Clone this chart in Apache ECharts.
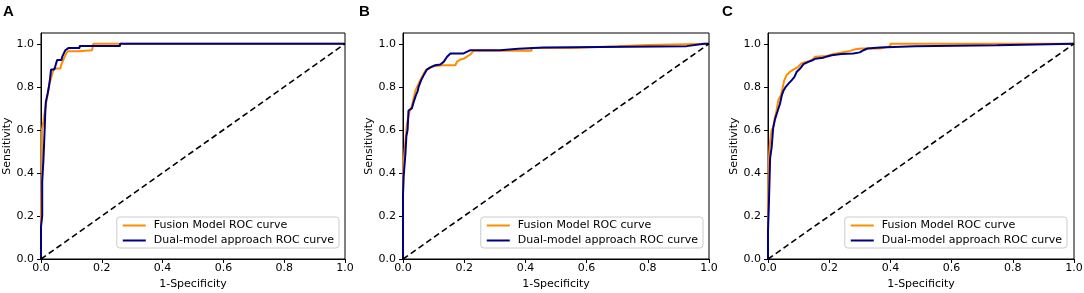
<!DOCTYPE html>
<html><head><meta charset="utf-8">
<script src="https://cdn.jsdelivr.net/npm/echarts@6/dist/echarts.min.js"></script>
<style>html,body{margin:0;padding:0;background:#fff}#c{width:1084px;height:293px}</style>
</head><body><div id="c"></div>
<script>
// ---------- data ----------
const panelLabels = ['A', 'B', 'C'];
const seriesNames = ['Fusion Model ROC curve', 'Dual-model approach ROC curve'];
const tickValues = [0, 0.2, 0.4, 0.6, 0.8, 1.0];
const chanceFpr = [0, 1];
const chanceTpr = [0, 1];

// Panel A
const aFusionFpr = [0, 0, 0.003, 0.003, 0.008, 0.012, 0.016, 0.02, 0.024, 0.027, 0.033, 0.037, 0.042, 0.064, 0.066, 0.069, 0.078, 0.083, 0.088, 0.124, 0.124, 0.168, 0.172, 1.0];
const aFusionTpr = [0, 0.2, 0.4, 0.6, 0.64, 0.68, 0.72, 0.75, 0.78, 0.81, 0.84, 0.86, 0.885, 0.885, 0.9, 0.91, 0.94, 0.955, 0.965, 0.965, 0.97, 0.97, 1.0, 1.0];
const aDualFpr = [0, 0, 0.004, 0.004, 0.008, 0.012, 0.014, 0.016, 0.022, 0.026, 0.03, 0.033, 0.044, 0.048, 0.053, 0.067, 0.07, 0.075, 0.08, 0.09, 0.127, 0.127, 0.26, 0.26, 1.0];
const aDualTpr = [0, 0.15, 0.2, 0.36, 0.46, 0.6, 0.68, 0.73, 0.77, 0.8, 0.84, 0.88, 0.88, 0.9, 0.924, 0.924, 0.94, 0.955, 0.97, 0.98, 0.98, 0.99, 0.99, 1.0, 1.0];

// Panel B
const bFusionFpr = [0, 0, 0.002, 0.008, 0.013, 0.022, 0.029, 0.04, 0.046, 0.056, 0.067, 0.076, 0.085, 0.1, 0.13, 0.171, 0.176, 0.187, 0.198, 0.209, 0.22, 0.23, 0.42, 0.42, 0.55, 0.55, 0.70, 0.70, 0.80, 0.80, 1.0];
const bFusionTpr = [0, 0.3, 0.45, 0.55, 0.63, 0.69, 0.71, 0.78, 0.8, 0.83, 0.86, 0.88, 0.885, 0.896, 0.9, 0.9, 0.916, 0.927, 0.93, 0.94, 0.95, 0.967, 0.967, 0.98, 0.98, 0.988, 0.988, 0.994, 0.994, 1.0, 1.0];
const bDualFpr = [0, 0, 0.002, 0.008, 0.011, 0.015, 0.018, 0.029, 0.035, 0.042, 0.048, 0.051, 0.059, 0.07, 0.078, 0.089, 0.105, 0.122, 0.133, 0.144, 0.155, 0.198, 0.203, 0.22, 0.317, 0.317, 0.377, 0.377, 0.459, 0.459, 0.927, 0.984, 1.0];
const bDualTpr = [0, 0.3, 0.38, 0.49, 0.57, 0.6, 0.69, 0.70, 0.73, 0.76, 0.78, 0.8, 0.83, 0.86, 0.88, 0.89, 0.9, 0.904, 0.916, 0.94, 0.955, 0.955, 0.963, 0.97, 0.97, 0.977, 0.977, 0.983, 0.983, 0.989, 0.989, 1.0, 1.0];

// Panel C
const cFusionFpr = [0, 0, 0.001, 0.003, 0.007, 0.012, 0.017, 0.023, 0.028, 0.034, 0.042, 0.047, 0.053, 0.061, 0.072, 0.083, 0.099, 0.11, 0.126, 0.143, 0.154, 0.192, 0.215, 0.236, 0.268, 0.285, 0.306, 0.366, 0.4, 0.4, 1.0];
const cFusionTpr = [0, 0.2, 0.35, 0.47, 0.55, 0.6, 0.61, 0.66, 0.69, 0.74, 0.76, 0.79, 0.83, 0.855, 0.87, 0.88, 0.893, 0.91, 0.916, 0.924, 0.94, 0.943, 0.953, 0.958, 0.967, 0.974, 0.978, 0.978, 0.989, 1.0, 1.0];
const cDualFpr = [0, 0, 0.003, 0.007, 0.012, 0.017, 0.023, 0.032, 0.039, 0.045, 0.05, 0.058, 0.067, 0.077, 0.086, 0.094, 0.105, 0.116, 0.132, 0.143, 0.154, 0.18, 0.19, 0.208, 0.24, 0.279, 0.3, 0.312, 0.325, 0.366, 0.37, 0.48, 0.48, 0.748, 0.748, 1.0];
const cDualTpr = [0, 0.13, 0.26, 0.47, 0.52, 0.61, 0.65, 0.69, 0.72, 0.76, 0.78, 0.8, 0.815, 0.83, 0.845, 0.87, 0.885, 0.905, 0.916, 0.922, 0.93, 0.935, 0.94, 0.947, 0.952, 0.955, 0.96, 0.97, 0.978, 0.983, 0.988, 0.988, 0.993, 0.993, 1.0, 1.0];

// ---------- build ----------
const panels = [
  {fusion: [aFusionFpr, aFusionTpr], dual: [aDualFpr, aDualTpr]},
  {fusion: [bFusionFpr, bFusionTpr], dual: [bDualFpr, bDualTpr]},
  {fusion: [cFusionFpr, cFusionTpr], dual: [cDualFpr, cDualTpr]}
];
const zip = (xs, ys) => xs.map((x, i) => [x, ys[i]]);

const FONT = '"DejaVu Sans", sans-serif';
const gridLayout = [
  {left: 41, top: 33, width: 304, height: 226},
  {left: 403, top: 33, width: 306, height: 226},
  {left: 768, top: 33, width: 306, height: 226}
];
const legendRight = [745, 381, 17];
const labelLeft = [3, 359, 722];

const grid = [], xAxis = [], yAxis = [], series = [], legend = [], graphic = [];
panels.forEach((p, i) => {
  grid.push(Object.assign({show: true, borderColor: '#000', borderWidth: 1, backgroundColor: 'transparent', containLabel: false, outerBoundsMode: 'none'}, gridLayout[i]));
  xAxis.push({
    type: 'value', gridIndex: i, min: 0, max: 1, interval: 0.2,
    axisLine: {show: true, onZero: false, lineStyle: {color: '#000', width: 1}},
    axisTick: {show: true, length: 4, lineStyle: {color: '#000', width: 1}},
    axisLabel: {fontFamily: FONT, fontSize: 11, color: '#000', margin: 4, formatter: v => v.toFixed(1)},
    splitLine: {show: false},
    name: '1-Specificity', nameLocation: 'middle', nameGap: 18,
    nameTextStyle: {fontFamily: FONT, fontSize: 11, color: '#000'}
  });
  yAxis.push({
    type: 'value', gridIndex: i, min: 0, max: 1.05,
    axisLine: {show: true, onZero: false, lineStyle: {color: '#000', width: 1}},
    axisTick: {show: true, length: 4, lineStyle: {color: '#000', width: 1}, customValues: tickValues},
    axisLabel: {fontFamily: FONT, fontSize: 11, color: '#000', margin: 7, customValues: tickValues, formatter: v => Number(v).toFixed(1)},
    splitLine: {show: false},
    name: 'Sensitivity', nameLocation: 'middle', nameGap: 26,
    nameTextStyle: {fontFamily: FONT, fontSize: 11, color: '#000'}
  });
  series.push({
    type: 'line', name: seriesNames[0], xAxisIndex: i, yAxisIndex: i,
    data: zip(p.fusion[0], p.fusion[1]), symbol: 'none', clip: true,
    lineStyle: {color: '#FF8C00', width: 2}, itemStyle: {color: '#FF8C00'}, animation: false
  });
  series.push({
    type: 'line', name: seriesNames[1], xAxisIndex: i, yAxisIndex: i,
    data: zip(p.dual[0], p.dual[1]), symbol: 'none', clip: true,
    lineStyle: {color: '#000080', width: 2}, itemStyle: {color: '#000080'}, animation: false
  });
  series.push({
    type: 'line', name: 'chance', xAxisIndex: i, yAxisIndex: i,
    data: zip(chanceFpr, chanceTpr), symbol: 'none', clip: true,
    lineStyle: {color: '#000', width: 1.6, type: [6, 3.5]}, animation: false, silent: true
  });
  legend.push({
    right: legendRight[i], top: 217, orient: 'vertical',
    data: seriesNames, icon: 'rect', itemWidth: 23, itemHeight: 2, itemGap: 4,
    padding: [3, 5, 2, 6], backgroundColor: 'rgba(255,255,255,0.8)',
    borderColor: '#cccccc', borderWidth: 1, borderRadius: 3, selectedMode: false,
    textStyle: {fontFamily: FONT, fontSize: 11, color: '#000', padding: [0, 0, 0, 3]}
  });
  graphic.push({
    type: 'text', left: labelLeft[i], top: 4,
    style: {text: panelLabels[i], font: 'bold 15px "Liberation Sans", Arial, sans-serif', fill: '#000'}
  });
});

const chart = echarts.init(document.getElementById('c'), null, {renderer: 'canvas'});
chart.setOption({animation: false, backgroundColor: '#fff', grid, xAxis, yAxis, series, legend, graphic});
</script></body></html>
